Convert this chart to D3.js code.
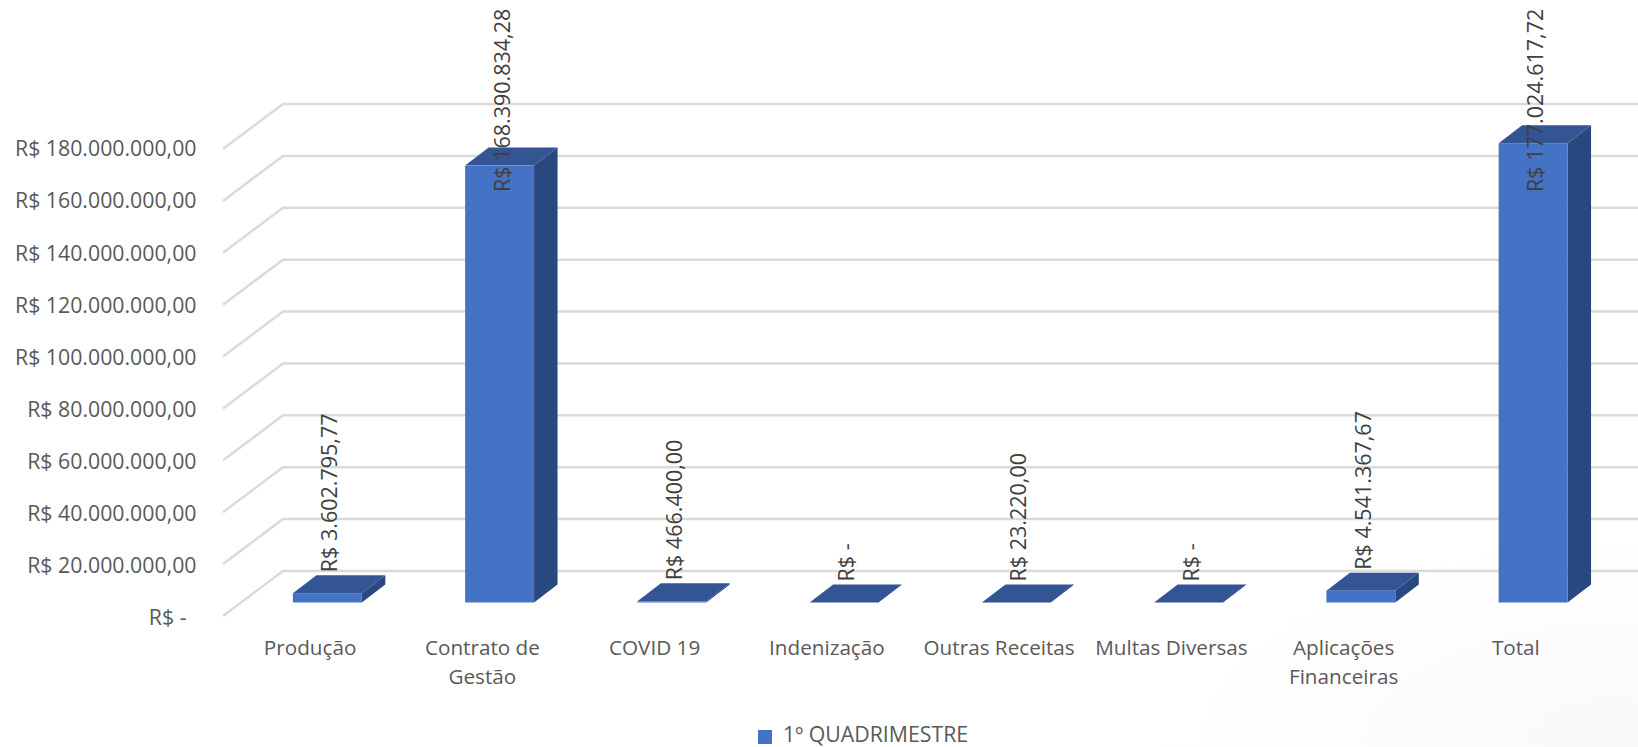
<!DOCTYPE html>
<html><head><meta charset="utf-8">
<script src="https://cdn.jsdelivr.net/npm/d3@7"></script>
<style>html,body{margin:0;padding:0;background:#fff;overflow:hidden}svg{display:block}
text{font-family:"Open Sans",sans-serif;}</style></head><body><svg id="c" width="1638" height="747"></svg>
<script>
const categories=["Produção","Contrato de Gestão","COVID 19","Indenização","Outras Receitas","Multas Diversas","Aplicações Financeiras","Total"];
const values=[3602795.77,168390834.28,466400,0,23220,0,4541367.67,177024617.72];
const tickValues=[0,20e6,40e6,60e6,80e6,100e6,120e6,140e6,160e6,180e6];
const seriesName="1º QUADRIMESTRE";
const W=1638,H=747,fs=21.3,fsLabel=21.5,fsCat=20.7,textCol="#595959";
const svg=d3.select("#c");
const defs=svg.append("defs");
const g=defs.append("radialGradient").attr("id","bg").attr("cx",1).attr("cy",1).attr("r",.3);
g.append("stop").attr("offset",0).attr("stop-color","#f9f9f9");
g.append("stop").attr("offset",1).attr("stop-color","#fff");
svg.append("rect").attr("width",W).attr("height",H).attr("fill","url(#bg)");
const loc=d3.formatLocale({decimal:",",thousands:".",grouping:[3],currency:["R$ ",""]});
const brl=v=>v===0?"R$ -":"R$ "+loc.format(",.2f")(v);
const wallDx=60,wallDy=45;
const yBack=d3.scaleLinear().domain([0,180e6]).range([571,104]);
const yFront=d3.scaleLinear().domain([0,180e6]).range([618,149]);
const yBar=d3.scaleLinear().domain([0,180e6]).range([602.5,135.5]);
const x=d3.scaleBand().domain(categories).range([224,1602]);
// gridlines
const wallX=223;
const grid=svg.append("g").attr("fill","none").attr("stroke","#dadada").attr("stroke-width",2.5);
grid.selectAll("path").data(tickValues).join("path")
 .attr("d",d=>`M${wallX},${yBack(d)+wallDy}L${wallX+wallDx},${yBack(d)}L${W},${yBack(d)}`);
// bars
const bw=x.bandwidth()*0.4,dx=23.5,dy=18;
const bars=svg.append("g").selectAll("g").data(categories.map((c,i)=>({c,v:values[i]}))).join("g");
const bl=d=>x(d.c)+bw;
bars.append("path").attr("fill","#2a4880")
 .attr("d",d=>{const a=bl(d)+bw,t=yBar(d.v),b=yBar(0);return `M${a},${t}L${a+dx},${t-dy}L${a+dx},${b-dy}L${a},${b}Z`});
bars.append("path").attr("fill","#335593")
 .attr("d",d=>{const a=bl(d),t=yBar(d.v);return `M${a},${t}L${a+dx},${t-dy}L${a+bw+dx},${t-dy}L${a+bw},${t}Z`});
bars.append("rect").attr("fill","#4472c4").attr("x",bl).attr("y",d=>yBar(d.v)).attr("width",bw).attr("height",d=>yBar(0)-yBar(d.v));
// value axis
const ya=svg.append("g").attr("transform","translate(196.5,0)")
 .call(d3.axisLeft(yFront).tickValues(tickValues).tickSize(0).tickPadding(0).tickFormat(brl));
ya.select(".domain").remove();
ya.selectAll("text").attr("font-size",fs).attr("fill",textCol).style("font-family",'"Open Sans",sans-serif')
 .attr("dx",d=>d===0?-10:0);
// category axis
const xa=svg.append("g").attr("transform","translate(0,635)")
 .call(d3.axisBottom(x).tickSize(0).tickPadding(0));
xa.select(".domain").remove();
xa.selectAll("text").attr("font-size",fsCat).attr("fill",textCol).style("font-family",'"Open Sans",sans-serif')
 .each(function(d){
  const t=d3.select(this),words=d.split(" ");t.text(null).attr("y",0).attr("dy",null);
  let line=[],ts=t.append("tspan").attr("x",0).attr("y",20),n=0;
  for(const w of words){line.push(w);ts.text(line.join(" "));
   if(ts.node().getComputedTextLength()>170&&line.length>1){line.pop();ts.text(line.join(" "));line=[w];n++;
    ts=t.append("tspan").attr("x",0).attr("y",20+n*29).text(w);}}
 });
// data labels
svg.append("g").selectAll("text").data(categories.map((c,i)=>({c,v:values[i]}))).join("text")
 .attr("transform",d=>`translate(${bl(d)+44.5},${Math.max(yBar(d.v)-21,192)}) rotate(-90)`)
 .attr("font-size",fsLabel).attr("fill","#404040").text(d=>brl(d.v));
// legend
const lg=svg.append("g");
lg.append("rect").attr("x",758).attr("y",730).attr("width",14).attr("height",14).attr("fill","#4472c4");
lg.append("text").attr("x",783).attr("y",742).attr("font-size",fs).attr("fill",textCol).text(seriesName);
</script></body></html>
